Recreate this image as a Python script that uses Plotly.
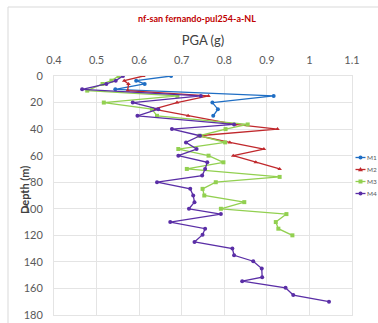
import plotly.graph_objects as go

# PGA (g) profiles versus depth (m) for four records
m1_depth = [0, 3.5, 6, 10, 15, 20, 25, 30]
m1_pga = [0.675, 0.593, 0.613, 0.544, 0.916, 0.772, 0.785, 0.774]

m2_depth = [0, 3.5, 6, 11, 15, 20, 25, 30, 36.5, 40, 45, 50, 55, 60, 65, 70]
m2_pga = [0.61, 0.565, 0.575, 0.573, 0.763, 0.689, 0.634, 0.715, 0.825, 0.925,
          0.74, 0.813, 0.893, 0.821, 0.874, 0.93]

m3_depth = [0, 3.5, 6, 11, 15, 20, 25, 30, 36.5, 40, 45, 50, 55, 60, 65, 70, 76,
            80, 85, 90, 95, 100, 104, 110, 115, 120]
m3_pga = [0.552, 0.535, 0.514, 0.478, 0.69, 0.517, 0.63, 0.642, 0.855, 0.803,
          0.742, 0.802, 0.692, 0.763, 0.798, 0.712, 0.93, 0.78, 0.749, 0.753,
          0.847, 0.792, 0.946, 0.921, 0.927, 0.96]

m4_depth = [0, 3.5, 6, 10, 15, 20, 25, 30, 36.5, 40, 45, 50, 55, 60, 65, 70, 75,
            80, 85, 90, 95, 100, 104, 110, 115, 119.5, 125, 130, 135, 139.5, 145,
            151.5, 154.5, 159.5, 165, 170]
m4_pga = [0.562, 0.545, 0.523, 0.466, 0.745, 0.585, 0.645, 0.596, 0.823, 0.677,
          0.743, 0.71, 0.735, 0.692, 0.76, 0.755, 0.748, 0.642, 0.72, 0.727,
          0.73, 0.717, 0.792, 0.673, 0.755, 0.749, 0.73, 0.819, 0.823, 0.868,
          0.888, 0.889, 0.842, 0.944, 0.962, 1.046]

series_names = ["M1", "M2", "M3", "M4"]
x_ticks = [0.4, 0.5, 0.6, 0.7, 0.8, 0.9, 1.0, 1.1]
x_tick_labels = ["0.4", "0.5", "0.6", "0.7", "0.8", "0.9", "1", "1.1"]
y_ticks = [0, 20, 40, 60, 80, 100, 120, 140, 160, 180]

colors = ["#1f6ec4", "#c0282c", "#92d050", "#5a2ea6"]
symbols = ["circle", "triangle-up", "square", "circle"]

fig = go.Figure()
for name, xs, ys, col, sym in zip(
    series_names,
    [m1_pga, m2_pga, m3_pga, m4_pga],
    [m1_depth, m2_depth, m3_depth, m4_depth],
    colors,
    symbols,
):
    fig.add_trace(go.Scatter(
        x=xs, y=ys, name=name, mode="lines+markers",
        line=dict(color=col, width=1.3),
        marker=dict(color=col, size=4, symbol=sym),
        showlegend=False,
    ))

W, H = 378, 323
L, R, T, B = 54, 26, 76, 8
pw = W - L - R
ph = H - T - B

def px_x(p):
    return (p - L) / pw

def px_y(p):
    return 1 - (p - T) / ph

fig.update_layout(
    width=W, height=H,
    margin=dict(l=L, r=R, t=T, b=B, pad=0, autoexpand=False),
    paper_bgcolor="white", plot_bgcolor="white",
    font=dict(family="Lato, Open Sans, sans-serif", color="#595959", size=11),
    showlegend=False,
    xaxis=dict(
        side="top", range=[0.4, 1.1], tickvals=x_ticks, ticktext=x_tick_labels,
        showgrid=True, gridcolor="#e4e4e4", gridwidth=1,
        zeroline=False, ticks="", showline=True, linecolor="#e4e4e4",
        mirror=True, tickfont=dict(size=11, color="#595959"),
        ticklabelstandoff=7,
        title=dict(text="PGA (g)", font=dict(size=13, color="#404040"), standoff=4),
    ),
    yaxis=dict(
        range=[180, 0], tickvals=y_ticks,
        showgrid=True, gridcolor="#e4e4e4", gridwidth=1,
        zeroline=False, ticks="", showline=True, linecolor="#e4e4e4",
        mirror=True, tickfont=dict(size=11, color="#595959"),
        ticklabelstandoff=8,
    ),
    title=dict(
        text="<b>nf-san fernando-pul254-a-NL</b>",
        x=197 / W, xanchor="center", y=1 - 19 / H, yanchor="middle",
        font=dict(size=9, color="#c00000"),
    ),
)

# vertical axis title placed close to the tick labels
fig.add_annotation(
    text="<b>Depth (m)</b>", textangle=-90,
    xref="paper", yref="paper", x=px_x(24), y=px_y(190),
    xanchor="center", yanchor="middle", showarrow=False,
    font=dict(size=11, color="#404040"),
)

# compact legend at the right edge: line sample, marker and label per series
for i, (name, col, sym) in enumerate(zip(series_names, colors, symbols)):
    yc = 157.5 + 12 * i
    xc = 360.5
    fig.add_shape(type="line", xref="paper", yref="paper",
                  x0=px_x(355.5), x1=px_x(365.5), y0=px_y(yc), y1=px_y(yc),
                  line=dict(color=col, width=1.3))
    r = 2.0
    if sym == "circle":
        fig.add_shape(type="circle", xref="paper", yref="paper",
                      x0=px_x(xc - r), x1=px_x(xc + r),
                      y0=px_y(yc - r), y1=px_y(yc + r),
                      line=dict(color=col, width=0), fillcolor=col)
    elif sym == "square":
        fig.add_shape(type="rect", xref="paper", yref="paper",
                      x0=px_x(xc - r), x1=px_x(xc + r),
                      y0=px_y(yc - r), y1=px_y(yc + r),
                      line=dict(color=col, width=0), fillcolor=col)
    else:
        path = "M {:.4f} {:.4f} L {:.4f} {:.4f} L {:.4f} {:.4f} Z".format(
            px_x(xc), px_y(yc - 2.5),
            px_x(xc - 2.5), px_y(yc + 1.8),
            px_x(xc + 2.5), px_y(yc + 1.8))
        fig.add_shape(type="path", xref="paper", yref="paper", path=path,
                      line=dict(color=col, width=0), fillcolor=col)
    fig.add_annotation(
        text=name, xref="paper", yref="paper",
        x=px_x(366), y=px_y(yc), xanchor="left", yanchor="middle",
        showarrow=False, borderpad=0, font=dict(size=6.5, color="#595959"),
    )

# light outline around the chart area
fig.add_shape(
    type="rect", xref="paper", yref="paper",
    x0=px_x(8), x1=px_x(390), y0=px_y(7), y1=px_y(340),
    line=dict(color="#d9d9d9", width=1), fillcolor="rgba(0,0,0,0)", layer="below",
)

fig.write_html("out.html")
